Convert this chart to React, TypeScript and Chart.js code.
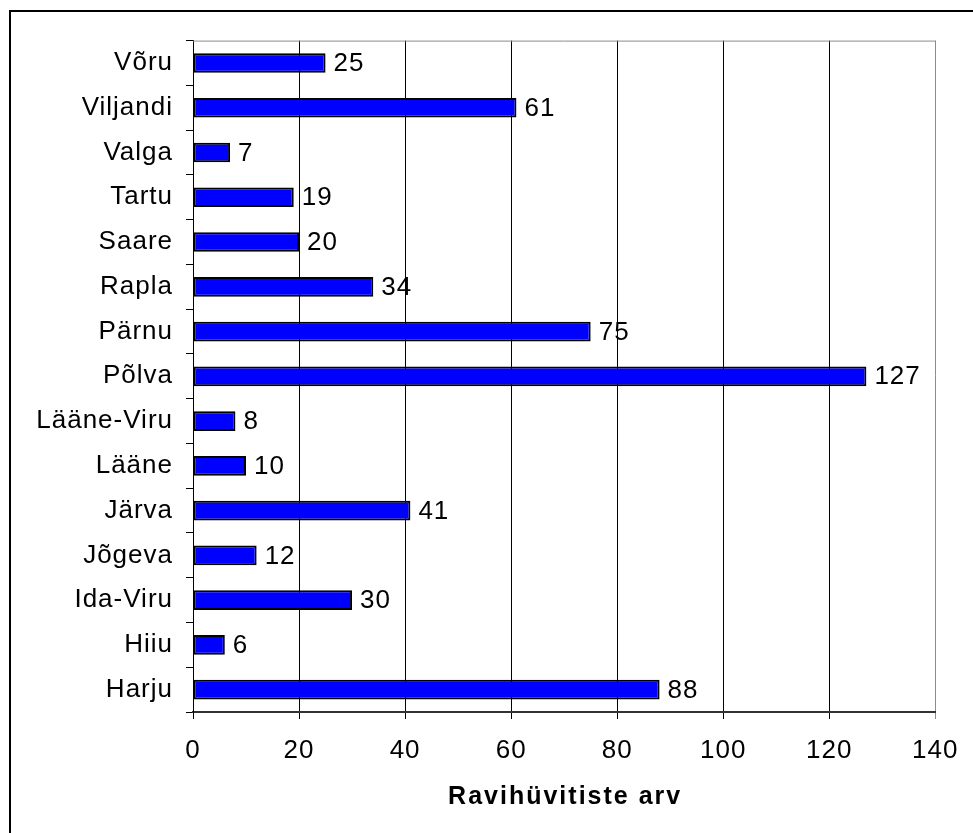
import React, { useEffect, useRef } from "react";
import { Chart, registerables } from "chart.js";

Chart.register(...registerables);

const categories = [
  "Võru",
  "Viljandi",
  "Valga",
  "Tartu",
  "Saare",
  "Rapla",
  "Pärnu",
  "Põlva",
  "Lääne-Viru",
  "Lääne",
  "Järva",
  "Jõgeva",
  "Ida-Viru",
  "Hiiu",
  "Harju",
];
const values = [25, 61, 7, 19, 20, 34, 75, 127, 8, 10, 41, 12, 30, 6, 88];
const xMin = 0;
const xMax = 140;
const xStep = 20;
const axisTitle = "Ravihüvitiste arv";

const FONT = "'Liberation Sans', Arial, Helvetica, sans-serif";
const W = 962;
const H = 821;

const spacing = {
  id: "spacing",
  beforeDraw(chart: any) {
    (chart.ctx as any).letterSpacing = "1px";
  },
};

const valueLabels = {
  id: "valueLabels",
  afterDatasetsDraw(chart: any) {
    const ctx = chart.ctx;
    const meta = chart.getDatasetMeta(0);
    ctx.save();
    ctx.font = `26px ${FONT}`;
    ctx.fillStyle = "#000";
    ctx.textAlign = "left";
    ctx.textBaseline = "middle";
    meta.data.forEach((el: any, i: number) => {
      const p = el.getProps(["x", "y"], true);
      ctx.fillText(String(values[i]), p.x + 8, p.y + 1);
    });
    ctx.restore();
  },
};

const frameAndTitle = {
  id: "frameAndTitle",
  afterDraw(chart: any) {
    const ctx = chart.ctx;
    const a = chart.chartArea;
    ctx.save();
    ctx.strokeStyle = "#8c8c8c";
    ctx.lineWidth = 1;
    ctx.beginPath();
    ctx.moveTo(a.left, a.top + 0.5);
    ctx.lineTo(a.right + 0.5, a.top + 0.5);
    ctx.stroke();
    ctx.fillStyle = "#000";
    ctx.font = `bold 25px ${FONT}`;
    (ctx as any).letterSpacing = "2px";
    ctx.textAlign = "center";
    ctx.textBaseline = "middle";
    ctx.fillText(axisTitle, (a.left + a.right) / 2 + 1, 785);
    ctx.restore();
  },
};

export default function App() {
  const ref = useRef<HTMLCanvasElement>(null);

  useEffect(() => {
    if (!ref.current) return;
    const chart = new Chart(ref.current, {
      type: "bar",
      data: {
        labels: categories,
        datasets: [
          {
            data: values,
            backgroundColor: "#0000ff",
            borderColor: "#000000",
            borderWidth: 2,
            borderSkipped: false,
            barPercentage: 0.44,
            categoryPercentage: 1,
          },
        ],
      },
      options: {
        indexAxis: "y",
        responsive: false,
        animation: false,
        devicePixelRatio: 1,
        layout: { padding: { top: 19, right: 36, left: 0, bottom: 0 } },
        plugins: {
          legend: { display: false },
          tooltip: { enabled: false },
          title: { display: false },
        },
        scales: {
          x: {
            type: "linear",
            position: "bottom",
            min: xMin,
            max: xMax,
            ticks: {
              stepSize: xStep,
              color: "#000",
              font: { family: FONT, size: 26 },
              padding: 16,
            },
            grid: {
              color: (c: any) => (c.tick && c.tick.value === xMax ? "#8c8c8c" : "#000"),
              lineWidth: 1,
              tickLength: 7,
              drawTicks: true,
            },
            border: { display: true, color: "#333", width: 2 },
            afterFit: (s: any) => {
              s.height = 121;
            },
          },
          y: {
            type: "category",
            offset: true,
            ticks: {
              color: "#000",
              font: { family: FONT, size: 26 },
              padding: 13,
            },
            grid: {
              drawOnChartArea: false,
              drawTicks: true,
              tickLength: 7,
              color: "#000",
              offset: true,
            },
            border: { display: true, color: "#000", width: 1 },
            afterFit: (s: any) => {
              s.width = 182;
            },
          },
        },
      },
      plugins: [spacing, valueLabels, frameAndTitle],
    } as any);
    return () => chart.destroy();
  }, []);

  return (
    <div
      style={{
        position: "fixed",
        left: 9,
        top: 10,
        width: 1000,
        height: 860,
        borderTop: "2px solid #000",
        borderLeft: "2px solid #000",
        background: "#fff",
        overflow: "hidden",
      }}
    >
      <canvas ref={ref} width={W} height={H} style={{ display: "block", width: W, height: H }} />
    </div>
  );
}
